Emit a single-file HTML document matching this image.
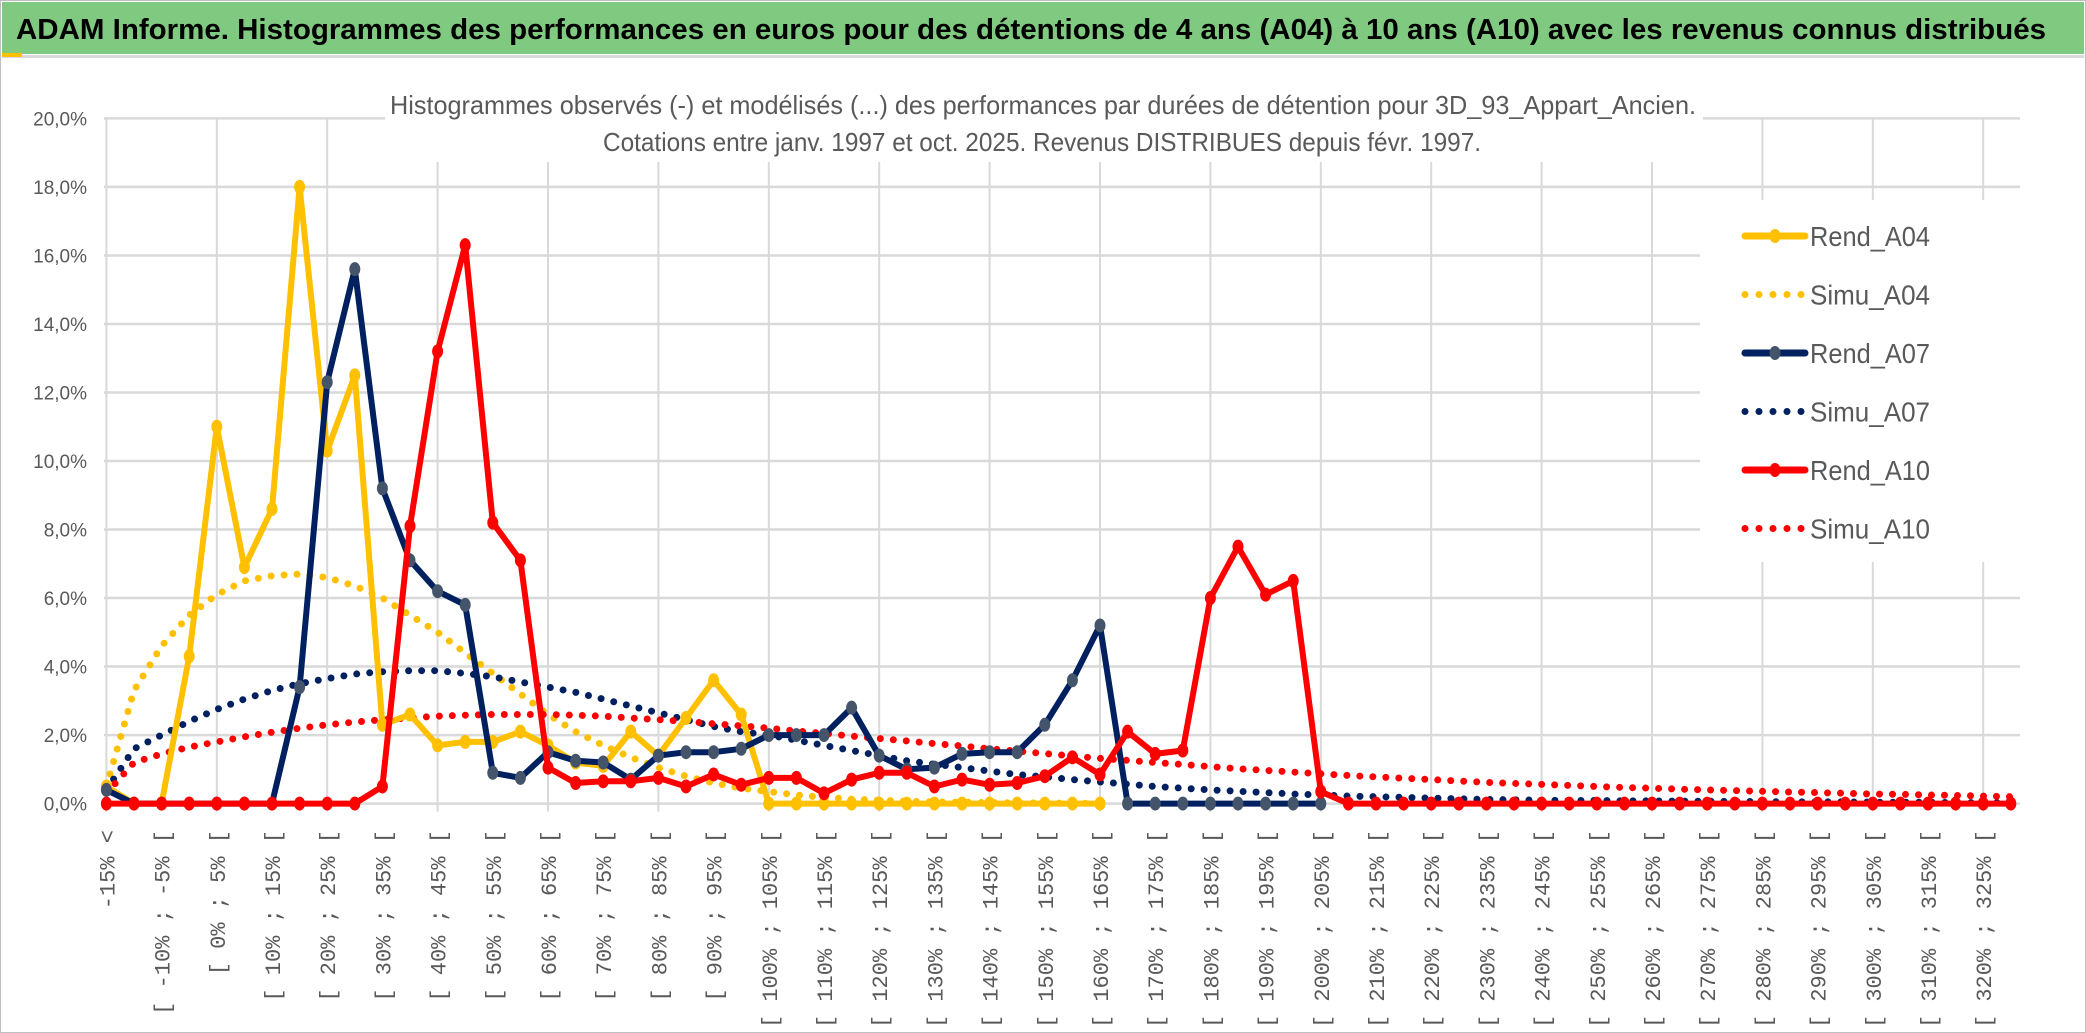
<!DOCTYPE html>
<html><head><meta charset="utf-8">
<style>
html,body{margin:0;padding:0;background:#fff;}
svg{display:block;font-family:"Liberation Sans",sans-serif;}
</style></head>
<body>
<svg id="chart" width="2086" height="1033" viewBox="0 0 2086 1033" xmlns="http://www.w3.org/2000/svg">
  <rect x="0.5" y="0.5" width="2085" height="1032" fill="#fff" stroke="#bfbfbf"/>
  <rect x="2" y="2" width="2082" height="52" fill="#80c980"/>
  <rect x="2" y="55" width="2082" height="3" fill="#d9d9d9"/>
  <rect x="2" y="53" width="20" height="4" fill="#ffc000"/>
  <text x="16" y="39" font-size="29" font-weight="bold" fill="#000" textLength="2030" lengthAdjust="spacingAndGlyphs">ADAM Informe. Histogrammes des performances en euros pour des détentions de 4 ans (A04) à 10 ans (A10) avec les revenus connus distribués</text>
  <g id="grid"></g>
  <g id="ylabels"></g>
  <g id="xlabels"></g>
  <rect x="385" y="80" width="1318" height="82" fill="#fff"/>
  <text x="390" y="114" font-size="26" fill="#595959" textLength="1306" lengthAdjust="spacingAndGlyphs">Histogrammes observés (-) et modélisés (...) des performances par durées de détention pour 3D_93_Appart_Ancien.</text>
  <text x="603" y="151" font-size="26" fill="#595959" textLength="878" lengthAdjust="spacingAndGlyphs">Cotations entre janv. 1997 et oct. 2025. Revenus DISTRIBUES depuis févr. 1997.</text>
  <g id="series"></g>
  <g id="legend"></g>
</svg>
<script>
const rendA04 = [0.5,0,0,4.3,11.0,6.9,8.6,18.0,10.3,12.5,2.3,2.6,1.7,1.8,1.8,2.1,1.7,1.2,1.1,2.1,1.4,2.5,3.6,2.6,0,0,0,0,0,0,0,0,0,0,0,0,0];
const simuA04 = [0.5,3.3,4.6,5.5,6.1,6.5,6.65,6.7,6.6,6.35,6.0,5.5,5.0,4.4,3.8,3.2,2.6,2.1,1.7,1.35,1.05,0.8,0.6,0.45,0.35,0.25,0.18,0.13,0.1,0.07,0.05,0.04,0.03,0.02,0.02,0.01,0.01];
const rendA07 = [0.4,0,0,0,0,0,0,3.4,12.3,15.6,9.2,7.1,6.2,5.8,0.9,0.75,1.5,1.25,1.2,0.7,1.4,1.5,1.5,1.6,2.0,2.0,2.0,2.8,1.4,1.0,1.05,1.45,1.5,1.5,2.3,3.6,5.2,0,0,0,0,0,0,0,0];
const simuA07 = [0.4,1.6,2.0,2.4,2.75,3.05,3.3,3.5,3.65,3.78,3.85,3.88,3.88,3.8,3.7,3.55,3.4,3.25,3.05,2.85,2.65,2.45,2.25,2.1,2.0,1.85,1.7,1.55,1.4,1.25,1.15,1.05,0.95,0.85,0.78,0.7,0.63,0.57,0.5,0.45,0.4,0.36,0.32,0.28,0.25,0.22,0.2,0.18,0.16,0.14,0.12,0.11,0.1,0.09,0.09,0.08,0.08,0.07,0.07,0.06,0.06,0.05,0.05,0.05,0.04,0.04,0.04,0.03,0.03,0.03];
const rendA10 = [0,0,0,0,0,0,0,0,0,0,0.5,8.1,13.2,16.3,8.2,7.1,1.05,0.6,0.65,0.65,0.75,0.5,0.85,0.55,0.75,0.75,0.3,0.7,0.9,0.9,0.5,0.7,0.55,0.6,0.8,1.35,0.85,2.1,1.45,1.55,6.0,7.5,6.1,6.5,0.35,0,0,0,0,0,0,0,0,0,0,0,0,0,0,0,0,0,0,0,0,0,0,0,0,0];
const simuA10 = [0.3,1.2,1.45,1.65,1.8,1.95,2.08,2.2,2.3,2.38,2.45,2.5,2.55,2.58,2.6,2.6,2.6,2.58,2.55,2.5,2.45,2.4,2.33,2.27,2.2,2.12,2.05,1.97,1.9,1.83,1.75,1.68,1.6,1.53,1.46,1.39,1.32,1.26,1.2,1.14,1.08,1.02,0.97,0.92,0.87,0.82,0.78,0.74,0.7,0.66,0.62,0.59,0.56,0.53,0.5,0.47,0.45,0.42,0.4,0.38,0.36,0.34,0.32,0.3,0.28,0.27,0.25,0.24,0.22,0.2];
const yTicks = [0,2,4,6,8,10,12,14,16,18,20];
const categoryCount = 70;
const categoryLabels = [];
for (let k = 0; k < categoryCount; k++) {
  categoryLabels.push(k === 0 ? "-15% <" : "[ " + (-15 + 5*(k-1)) + "% ; " + (-10 + 5*(k-1)) + "% [");
}

const NS = "http://www.w3.org/2000/svg";
const X0 = 106.4, DX = 27.6, Y0 = 803.6, PY = 34.26;
const xAt = k => X0 + DX * k;
const yAt = v => Y0 - PY * v;
function mk(tag, attrs, parent) {
  const e = document.createElementNS(NS, tag);
  for (const a in attrs) e.setAttribute(a, attrs[a]);
  parent.appendChild(e);
  return e;
}
const grid = document.getElementById('grid');
yTicks.forEach(t => {
  const l = mk('line', {x1: 104, x2: 2020, y1: yAt(t), y2: yAt(t), stroke: '#d9d9d9', 'stroke-width': 2.5}, grid);
  
  
});
for (let k = 0; k < categoryCount; k += 4) {
  const l = mk('line', {x1: xAt(k), x2: xAt(k), y1: yAt(20), y2: Y0 + 8, stroke: '#d9d9d9', 'stroke-width': 2}, grid);
  
  
}
const yl = document.getElementById('ylabels');
yTicks.forEach(t => {
  const tx = mk('text', {x: 87, y: yAt(t) + 7, 'text-anchor': 'end', 'font-size': 19, fill: '#595959'}, yl);
  tx.textContent = t.toFixed(1).replace('.', ',') + '%';
  
  
});
const xl = document.getElementById('xlabels');
for (let k = 0; k < categoryCount; k += 2) {
  const x = xAt(k) + 8, y = 830;
  const tx = mk('text', {x: x, y: y, transform: 'rotate(-90 ' + x + ' ' + y + ')', 'text-anchor': 'end', 'font-size': 22, fill: '#595959', 'font-family': '"Liberation Mono", monospace'}, xl);
  tx.textContent = categoryLabels[k];
  
  
}
const series = document.getElementById('series');
function pts(arr) { return arr.map((v, k) => xAt(k).toFixed(1) + ',' + yAt(v).toFixed(1)).join(' '); }
function dotted(arr, color, name) {
  const p = mk('polyline', {points: pts(arr), fill: 'none', stroke: color, 'stroke-width': 7, 'stroke-linecap': 'round', 'stroke-dasharray': '0 13'}, series);
  
  
}
function solid(arr, color, mcolor, name) {
  const g = mk('g', {}, series);
  
  
  mk('polyline', {points: pts(arr), fill: 'none', stroke: color, 'stroke-width': 6, 'stroke-linejoin': 'round'}, g);
  arr.forEach((v, k) => {
    const c = mk('ellipse', {cx: xAt(k), cy: yAt(v), rx: 5.5, ry: 7, fill: mcolor}, g);
    
    
  });
}
dotted(simuA04, '#ffc000', 'simu-a04-line');
dotted(simuA07, '#002060', 'simu-a07-line');
dotted(simuA10, '#ff0000', 'simu-a10-line');
solid(rendA04, '#ffc000', '#ffc000', 'rend-a04-line');
solid(rendA07, '#002060', '#44546a', 'rend-a07-line');
solid(rendA10, '#ff0000', '#ff0000', 'rend-a10-line');

const legend = document.getElementById('legend');
mk('rect', {x: 1700, y: 200, width: 355, height: 362, fill: '#fff'}, legend);
const legendNames = ['Rend_A04','Simu_A04','Rend_A07','Simu_A07','Rend_A10','Simu_A10'];
const legendColors = ['#ffc000','#ffc000','#002060','#002060','#ff0000','#ff0000'];
const legendMarker = ['#ffc000',null,'#44546a',null,'#ff0000',null];
legendNames.forEach((n, i) => {
  const y = 236 + i * 58.5;
  const g = mk('g', {}, legend);
  
  
  if (legendMarker[i]) {
    mk('line', {x1: 1745, x2: 1805, y1: y, y2: y, stroke: legendColors[i], 'stroke-width': 7, 'stroke-linecap': 'round'}, g);
    mk('ellipse', {cx: 1775, cy: y, rx: 5.5, ry: 7, fill: legendMarker[i]}, g);
  } else {
    mk('line', {x1: 1745, x2: 1805, y1: y, y2: y, stroke: legendColors[i], 'stroke-width': 7, 'stroke-linecap': 'round', 'stroke-dasharray': '0 14'}, g);
  }
  const t = mk('text', {x: 1810, y: y + 10, 'font-size': 28, fill: '#595959', textLength: 120, lengthAdjust: 'spacingAndGlyphs'}, g);
  t.textContent = n;
});
</script>
</body></html>
